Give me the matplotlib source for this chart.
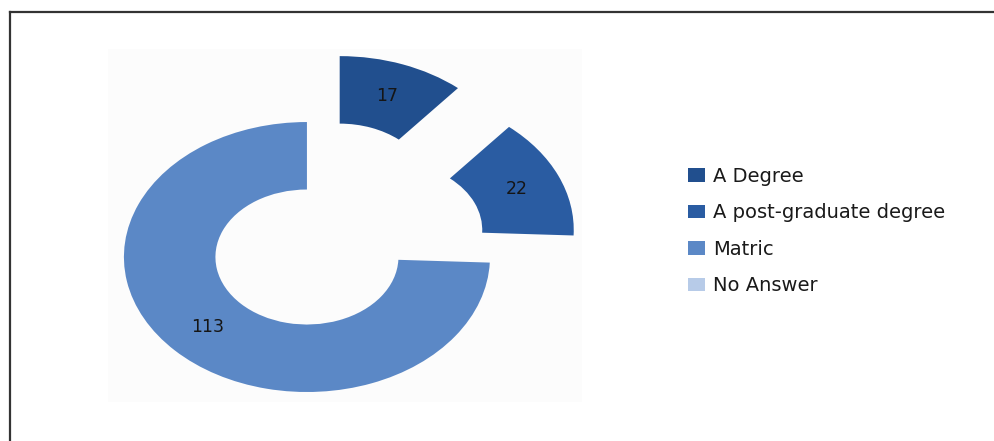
import matplotlib
matplotlib.use("Agg")
import matplotlib.pyplot as plt
from matplotlib.lines import Line2D

categories = ["A Degree", "A post-graduate degree", "Matric", "No Answer"]
counts = [17, 22, 113, 0]
colors = ["#214f8e", "#2a5ca2", "#5b88c6", "#b7cbe8"]
explode = [0.52, 0.5, 0.0, 0.0]

total = sum(counts)

fig = plt.figure(figsize=(9.95, 4.41), dpi=100)
fig.patch.set_facecolor("white")

# plot area (very faint grey panel behind the ring)
ax = fig.add_axes([108 / 995, 1 - 402 / 441, 474 / 995, 353 / 441])


def value_label(pct):
    v = round(pct * total / 100.0)
    return f"{v}" if v > 0 else ""


wedges, texts, autotexts = ax.pie(
    counts,
    colors=colors,
    explode=explode,
    startangle=90,
    counterclock=False,
    wedgeprops=dict(width=0.5, linewidth=0),
    autopct=value_label,
    pctdistance=0.75,
    textprops=dict(fontsize=12.5, color="#151515"),
)
ax.set_frame_on(True)
ax.set_facecolor("#fcfcfc")
for s in ax.spines.values():
    s.set_visible(False)
ax.set_aspect("auto")
ax.set_xlim(-1.087, 1.503)
ax.set_ylim(-1.074, 1.541)
ax.set_xticks([])
ax.set_yticks([])

fig.legend(
    wedges,
    categories,
    loc="upper left",
    bbox_to_anchor=(680 / 995, 1 - 159 / 441),
    frameon=False,
    fontsize=14,
    handlelength=0.9,
    handleheight=0.7,
    handletextpad=0.4,
    labelspacing=0.9,
    borderaxespad=0,
    labelcolor="#1a1a1a",
)

# outer frame lines (top and left)
fig.add_artist(Line2D([10 / 995, 1.0], [1 - 12 / 441, 1 - 12 / 441],
                      transform=fig.transFigure, color="#333333", linewidth=1.6))
fig.add_artist(Line2D([10 / 995, 10 / 995], [0.0, 1 - 12 / 441],
                      transform=fig.transFigure, color="#333333", linewidth=1.6))

fig.savefig("out.png", dpi=100)
